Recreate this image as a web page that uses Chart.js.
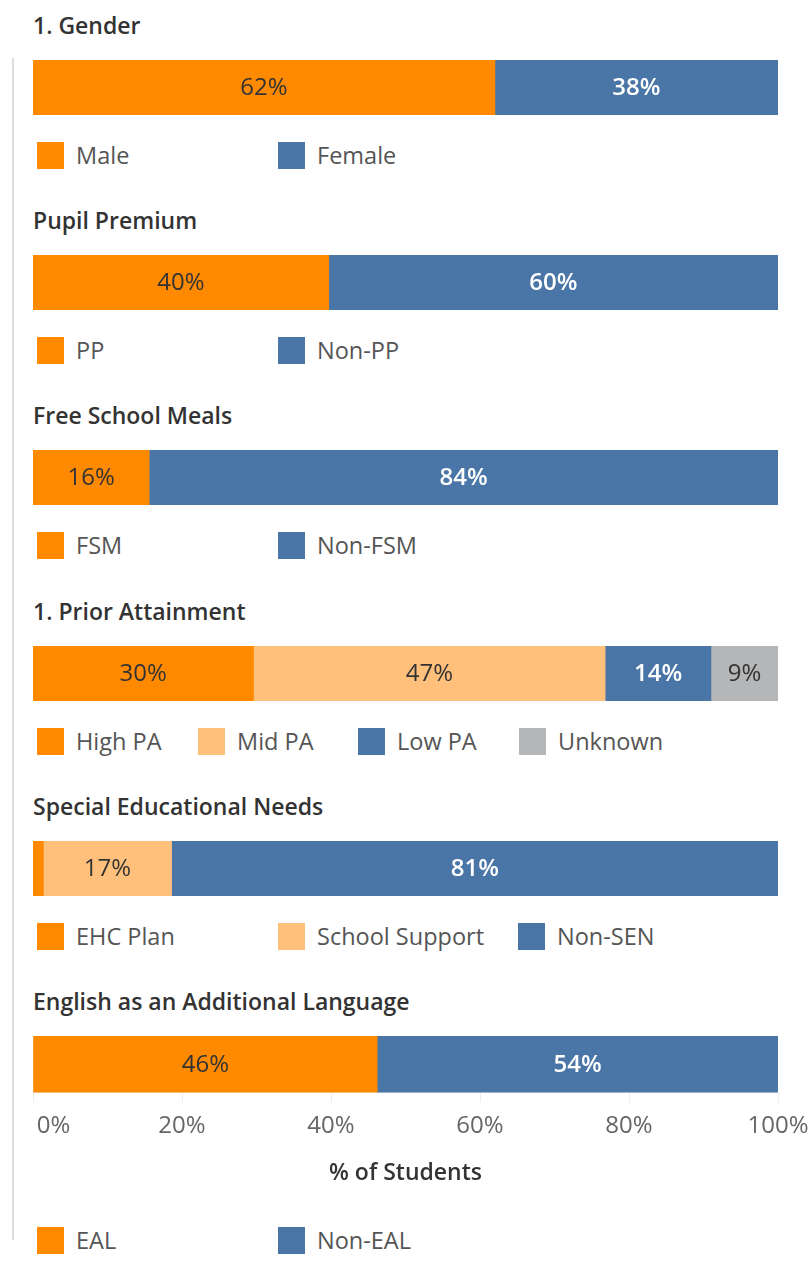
<!DOCTYPE html>
<html>
<head>
<meta charset="utf-8">
<script src="https://cdn.jsdelivr.net/npm/chart.js@4"></script>
<style>
  body { margin: 0; background: #fff; font-family: "Open Sans", sans-serif; }
  #page { position: relative; width: 809px; height: 1267px; overflow: hidden; }
  #frame { position: absolute; left: 12px; top: 58px; width: 2px; height: 1182px; background: #dedede; }
  .title { position: absolute; left: 33px; font-size: 23px; font-weight: 600; color: #333; line-height: 24px; }
  .legend { position: absolute; left: 37px; height: 28px; }
  .item { position: absolute; top: 0; display: flex; align-items: center; white-space: nowrap; }
  .swatch { width: 27px; height: 27px; margin-right: 12px; }
  .label { font-size: 23.5px; color: #555; line-height: 28px; }
  .chartBox { position: absolute; left: -20px; width: 886px; }
</style>
</head>
<body>
<div id="page"><div id="frame"></div></div>
<script>
// data
var titles = ['1. Gender', 'Pupil Premium', 'Free School Meals', '1. Prior Attainment', 'Special Educational Needs', 'English as an Additional Language'];
var genderLabels = ['Male', 'Female'];
var genderValues = [62.0, 38.0];
var ppLabels = ['PP', 'Non-PP'];
var ppValues = [39.7, 60.3];
var fsmLabels = ['FSM', 'Non-FSM'];
var fsmValues = [15.6, 84.4];
var paLabels = ['High PA', 'Mid PA', 'Low PA', 'Unknown'];
var paValues = [29.6, 47.2, 14.2, 9.0];
var senLabels = ['EHC Plan', 'School Support', 'Non-SEN'];
var senValues = [1.4, 17.2, 81.4];
var ealLabels = ['EAL', 'Non-EAL'];
var ealValues = [46.2, 53.8];
var xTicks = [0, 20, 40, 60, 80, 100];
var axisTitle = '% of Students';

var orange = '#ff8a00', lightOrange = '#ffc07c', blue = '#4a76a7', grey = '#b4b6b8';
var darkText = '#333', whiteText = '#fff';

var panels = [
  { labels: genderLabels, values: genderValues, colors: [orange, blue] },
  { labels: ppLabels, values: ppValues, colors: [orange, blue] },
  { labels: fsmLabels, values: fsmValues, colors: [orange, blue] },
  { labels: paLabels, values: paValues, colors: [orange, lightOrange, blue, grey] },
  { labels: senLabels, values: senValues, colors: [orange, lightOrange, blue] },
  { labels: ealLabels, values: ealValues, colors: [orange, blue] }
];

// text inside each segment
var segLabels = {
  id: 'segLabels',
  afterDatasetsDraw: function(chart) {
    var c = chart.ctx;
    chart.data.datasets.forEach(function(ds, i) {
      var bar = chart.getDatasetMeta(i).data[0];
      var v = ds.data[0];
      if (v < 5) return;
      var onBlue = ds.backgroundColor == blue;
      c.save();
      c.font = (onBlue ? '600 ' : '') + '24px "Open Sans", sans-serif';
      c.fillStyle = onBlue ? whiteText : darkText;
      c.textAlign = 'center';
      c.textBaseline = 'middle';
      c.fillText(Math.round(v) + '%', (bar.x + bar.base) / 2, bar.y + 1);
      c.restore();
    });
  }
};

var page = document.getElementById('page');
var pitch = 195.2;

panels.forEach(function(p, i) {
  var last = i == panels.length - 1;
  var top = Math.round(i * pitch);

  var t = document.createElement('div');
  t.className = 'title';
  t.style.top = (13 + top) + 'px';
  t.textContent = titles[i];
  page.appendChild(t);

  var box = document.createElement('div');
  box.className = 'chartBox';
  box.style.top = (60 + top) + 'px';
  box.style.height = (last ? 155 : 55) + 'px';
  var cv = document.createElement('canvas');
  box.appendChild(cv);
  page.appendChild(box);

  var lg = document.createElement('div');
  lg.className = 'legend';
  lg.style.top = (last ? 1226 : 141 + top) + 'px';
  var step = p.labels.length > 3 ? 160.5 : 240.5;
  p.labels.forEach(function(name, k) {
    var it = document.createElement('div');
    it.className = 'item';
    it.style.left = Math.round(k * step) + 'px';
    it.innerHTML = '<div class="swatch" style="background:' + p.colors[k] + '"></div><span class="label">' + name + '</span>';
    lg.appendChild(it);
  });
  page.appendChild(lg);

  new Chart(cv.getContext('2d'), {
    type: 'bar',
    data: {
      labels: [titles[i]],
      datasets: p.values.map(function(v, k) {
        return {
          label: p.labels[k],
          data: [v],
          backgroundColor: p.colors[k],
          borderWidth: 0,
          barPercentage: 1,
          categoryPercentage: 1
        };
      })
    },
    options: {
      indexAxis: 'y',
      responsive: true,
      maintainAspectRatio: false,
      animation: false,
      layout: { padding: { left: 53, right: 88, top: 0, bottom: 0 } },
      plugins: {
        legend: { display: false },
        tooltip: { enabled: false },
        // axis title as a bottom title box (the scale box is capped at half the height)
        title: {
          display: last,
          position: 'bottom',
          text: axisTitle,
          color: '#333',
          padding: { top: 10, bottom: 4 },
          font: { family: '"Open Sans", sans-serif', size: 23, weight: '600' }
        }
      },
      scales: {
        x: {
          stacked: true,
          min: 0,
          max: 100,
          display: last,
          afterBuildTicks: function(axis) {
            axis.ticks = xTicks.map(function(v) { return { value: v }; });
          },
          ticks: {
            // first label sits to the right of its tick, like the original
            callback: function(v) { return (v == 0 ? '\u2007\u2007\u2007' : '') + v + '%'; },
            color: '#666',
            padding: 9,
            font: { family: '"Open Sans", sans-serif', size: 24 }
          },
          grid: { color: '#ececec', tickLength: 10, drawOnChartArea: false },
          border: { color: '#ececec' }
        },
        y: { stacked: true, display: false }
      }
    },
    plugins: [segLabels]
  });
});
</script>
</body>
</html>
